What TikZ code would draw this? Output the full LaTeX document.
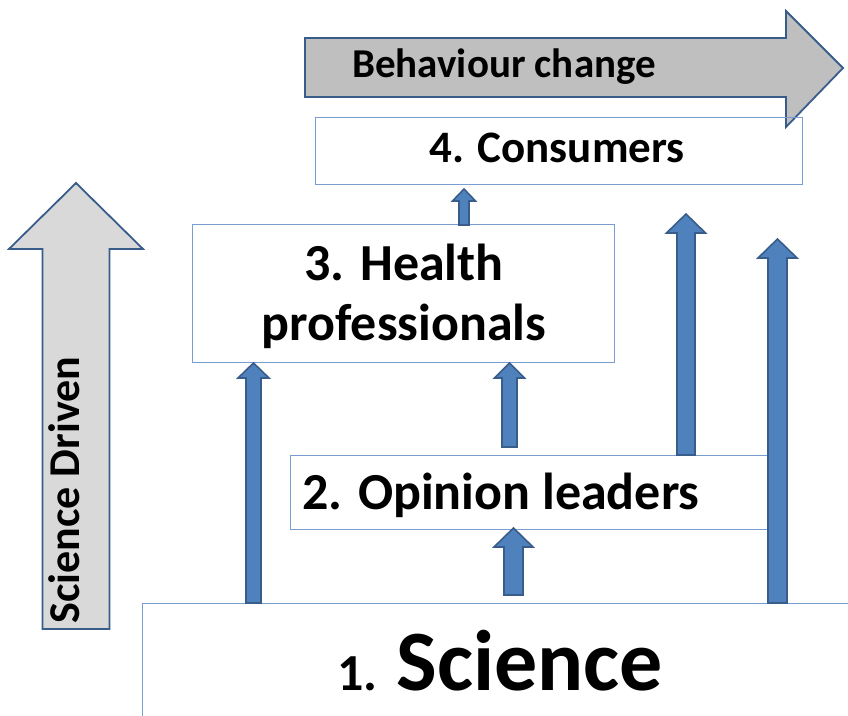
\documentclass[tikz,border=0pt]{standalone}
\usepackage{fontspec}
\setmainfont{Carlito}
\definecolor{boxblue}{RGB}{122,157,208}
\definecolor{arrblue}{RGB}{79,129,189}
\definecolor{arredge}{RGB}{56,93,138}
\definecolor{graydark}{RGB}{191,191,191}
\definecolor{graylight}{RGB}{217,217,217}
% block arrow pointing up: style, x, ybottom, ytip, yheadbase, body half width, head half width
\newcommand\upblock[7]{%
  \draw[#1] ({#2-#6},#3) -- ({#2-#6},#5) -- ({#2-#7},#5) -- (#2,#4) --
    ({#2+#7},#5) -- ({#2+#6},#5) -- ({#2+#6},#3) -- cycle;}
\newcommand\fs[1]{\fontsize{#1}{#1}\selectfont}
\begin{document}
\begin{tikzpicture}[x=1pt,y=-1pt,
  box/.style={draw=boxblue, line width=1.1pt, inner sep=0pt, anchor=north west},
  bluearr/.style={fill=arrblue, draw=arredge, line width=1.6pt, line join=miter},
  grayarr/.style={fill=#1, draw=arredge, line width=1.8pt, line join=miter},
  lbl/.style={font=\bfseries, inner sep=0pt}]
\useasboundingbox (0,0) rectangle (848,715);
\clip (0,0) rectangle (848,715);
\fill[white] (0,0) rectangle (848,715);

% gray arrows
\draw[grayarr=graydark] (305,38) -- (786,38) -- (786,11) -- (843,68) -- (786,127) -- (786,97) -- (305,97) -- cycle;
\upblock{grayarr=graylight}{76}{629}{183}{249}{33.5}{67}

% boxes
\node[box, minimum width=487, minimum height=67] (con) at (315,117) {};
\node[box, minimum width=422, minimum height=138] (hp) at (192,224) {};
\node[box, minimum width=478, minimum height=74] (ol) at (290,455) {};
\node[box, minimum width=760, minimum height=160] (sci) at (142,603) {};

% blue arrows
\upblock{bluearr}{464}{225}{189}{201}{5}{11.5}
\upblock{bluearr}{253.5}{603}{363}{378}{7.5}{15.5}
\upblock{bluearr}{509.5}{447}{363}{378}{7.5}{15}
\upblock{bluearr}{513.5}{595}{528}{547}{9.5}{19.5}
\upblock{bluearr}{686}{455}{214}{233}{9}{19.5}
\upblock{bluearr}{777.5}{603}{239}{258}{9.5}{19.5}

% texts
\node[lbl, anchor=base west] (tbeh) at (352,77) {\fs{41}Behaviour change};
\node[lbl, anchor=base] (tcon) at (557,162) {\fs{45}4. Consumers};
\node[lbl, anchor=base] (thp1) at (404,280) {\fs{52}3. Health};
\node[lbl, anchor=base] (thp2) at (404,340) {\fs{52}professionals};
\node[lbl, anchor=base west] (tol) at (302,509) {\fs{52}2. Opinion leaders};
\node[lbl, anchor=base west] (tsci) at (337,690) {\fs{52}1.\hspace{19pt}\fs{86}Science};
\node[lbl, anchor=base, rotate=90] (tsd) at (79,490) {\fs{44}Science Driven};
\end{tikzpicture}
\end{document}
